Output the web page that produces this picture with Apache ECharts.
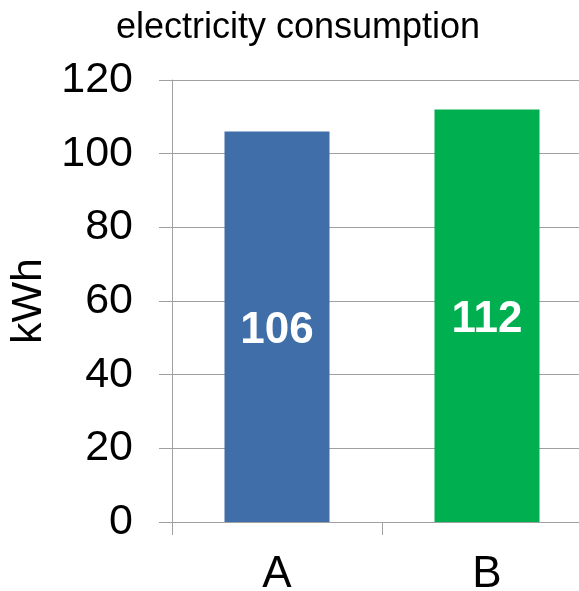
<!DOCTYPE html>
<html><head><meta charset="utf-8">
<script src="https://cdn.jsdelivr.net/npm/echarts@6/dist/echarts.min.js"></script>
<style>html,body{margin:0;padding:0;background:#fff}#c{width:579px;height:591px}</style>
</head><body><div id="c"></div>
<script>
const categories = ['A', 'B'];
const values = [106, 112];
const barColors = ['#3F6EA8', '#00AF50'];
const titleText = 'electricity consumption';
const yName = 'kWh';

const chart = echarts.init(document.getElementById('c'));
chart.setOption({
  animation: false,
  title: {
    text: titleText, left: 293, top: 5, textAlign: 'center',
    textStyle: { fontFamily: 'Liberation Sans', fontSize: 36, fontWeight: 'normal', color: '#000' }
  },
  grid: { left: 172, top: 80, height: 442, width: 420, containLabel: false, outerBoundsMode: 'none' },
  xAxis: {
    type: 'category', data: categories,
    axisLine: { lineStyle: { color: '#A0A0A0', width: 1 } },
    axisTick: { show: true, length: 13, lineStyle: { color: '#A0A0A0' } },
    axisLabel: { fontFamily: 'Liberation Sans', fontSize: 44, color: '#000', margin: 31 }
  },
  yAxis: {
    type: 'value', min: 0, max: 120, interval: 20,
    name: yName, nameLocation: 'middle', nameGap: 103, nameRotate: 90,
    nameTextStyle: { fontFamily: 'Liberation Sans', fontSize: 43, color: '#000' },
    axisLine: { show: true, lineStyle: { color: '#A0A0A0', width: 1 } },
    axisTick: { show: true, length: 13, lineStyle: { color: '#A0A0A0' } },
    axisLabel: { fontFamily: 'Liberation Sans', fontSize: 43, color: '#000', margin: 39 },
    splitLine: { lineStyle: { color: '#A0A0A0', width: 1 } }
  },
  series: [{
    type: 'bar', barWidth: '50%',
    data: values.map((v, i) => ({ value: v, itemStyle: { color: barColors[i] } })),
    label: { show: true, position: 'inside', offset: [0, 4], color: '#fff', fontFamily: 'Liberation Sans', fontWeight: 'bold', fontSize: 44 }
  }]
});
</script></body></html>
